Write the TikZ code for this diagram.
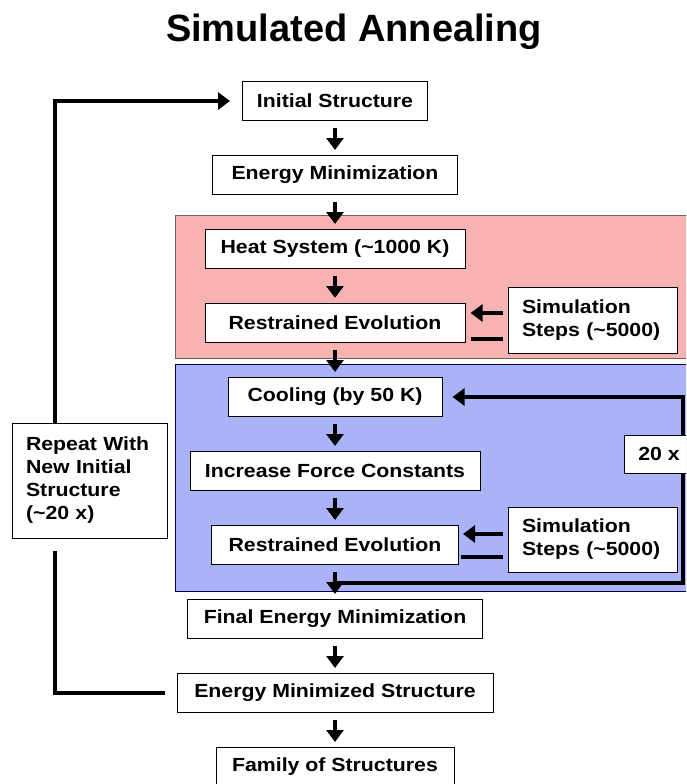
\documentclass[tikz,border=0pt]{standalone}
\usepackage{fontspec}
\setmainfont{Liberation Sans}
\newfontfamily\boxfont[FakeStretch=1.12]{Liberation Sans}
\usetikzlibrary{arrows.meta}

\definecolor{heatpink}{RGB}{249,178,178}
\definecolor{coolblue}{RGB}{170,178,248}

\begin{document}
\begin{tikzpicture}[x=1pt,y=1pt,->,>={Triangle[length=12pt,width=17pt]},
  line width=3.5pt,node distance=74pt,
  box node/.style={draw,line width=1pt,fill=white,minimum height=39pt,
    font=\boxfont\fontsize{19}{23}\selectfont\bfseries},
  side node/.style={box node,align=left,inner xsep=14pt}]
  \clip (0,0) rectangle (686,-784);
  \node[font=\fontsize{38}{44}\selectfont\bfseries] (title) at (354,-32) {Simulated Annealing};
  % heating and cooling stages
  \filldraw[-,fill=heatpink,draw=black!60,line width=1pt] (175,-215) rectangle (700,-358);
  \filldraw[-,fill=coolblue,draw=blue!30!black,line width=1pt] (175,-364) rectangle (700,-591);

  \node[box node,minimum width=185pt] (init) at (335,-101) {Initial Structure};
  \node[box node,minimum width=245pt] (emin) [below of=init] {Energy Minimization};
  \node[box node,minimum width=260pt] (heat) [below of=emin] {Heat System (\textasciitilde1000 K)};
  \node[box node,minimum width=260pt] (evolA) [below of=heat] {Restrained Evolution};
  \node[box node,minimum width=214pt] (cool) [below of=evolA] {Cooling (by 50 K)};
  \node[box node,minimum width=290pt] (force) [below of=cool] {Increase Force Constants};
  \node[box node,minimum width=247pt] (evolB) [below of=force] {Restrained Evolution};
  \node[box node,minimum width=295pt] (final) [below of=evolB] {Final Energy Minimization};
  \node[box node,minimum width=316pt] (emstruct) [below of=final] {Energy Minimized Structure};
  \node[box node,minimum width=238pt] (family) [below of=emstruct] {Family of Structures};

  \node[side node,text width=141pt,minimum height=66pt] (simA) at (592.5,-320) {Simulation\\Steps (\textasciitilde5000)};
  \node[side node,text width=141pt,minimum height=65pt] (simB) at (592.5,-539.5) {Simulation\\Steps (\textasciitilde5000)};
  \node[side node,text width=127pt,minimum height=115pt] (repeat) at (89.5,-480.5) {Repeat With\\New Initial\\Structure\\(\textasciitilde20 x)};

  \path[shorten <=7pt,shorten >=5pt]
    (init) edge (emin)
    (emin) edge (heat)
    (heat) edge (evolA)
    (evolA) edge (cool)
    (cool) edge (force)
    (force) edge (evolB)
    (evolB) edge (final)
    (final) edge (emstruct)
    (emstruct) edge (family);

  \draw[shorten <=5pt,shorten >=5pt] ([yshift=10pt]simA.west |- evolA.east) -- ([yshift=10pt]evolA.east);
  \draw[-,shorten <=5pt,shorten >=5pt] ([yshift=-16pt]simA.west |- evolA.east) -- ([yshift=-16pt]evolA.east);
  \draw[shorten <=5pt,shorten >=4pt] ([yshift=11pt]simB.west |- evolB.east) -- ([yshift=11pt]evolB.east);
  \draw[-,shorten <=5pt,shorten >=2pt] ([yshift=-12pt]simB.west |- evolB.east) -- ([yshift=-12pt]evolB.east);

  % 20 x loop
  \coordinate (loopR) at (683,-583);
  \draw[shorten >=10pt] (evolB.south |- loopR) -- (loopR) |- (cool.east);
  \node[side node,minimum width=66pt,minimum height=38pt] (twenty) at (659,-454) {20 x};

  % repeat loop
  \draw[-,shorten <=12pt,shorten >=12pt] (emstruct.west) -| ([xshift=-34.5pt]repeat.south);
  \draw[shorten >=12pt] ([xshift=-34.5pt]repeat.north) |- (init.west);
\end{tikzpicture}
\end{document}
